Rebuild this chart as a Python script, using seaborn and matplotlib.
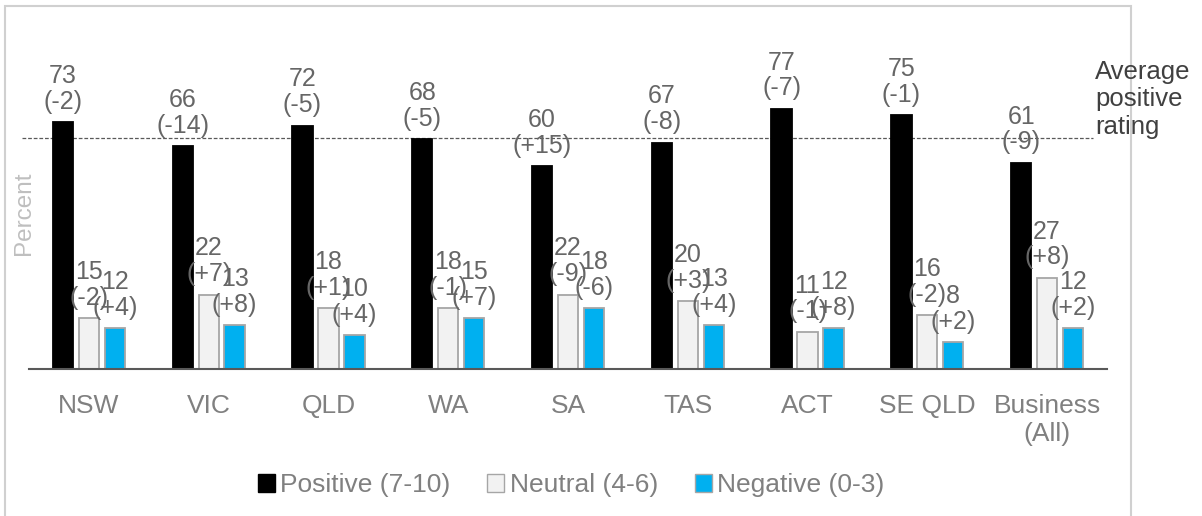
import pandas as pd
import matplotlib.pyplot as plt
import matplotlib.patches as mpatches
import seaborn as sns

regions = ["NSW", "VIC", "QLD", "WA", "SA", "TAS", "ACT", "SE QLD", "Business\n(All)"]
series = ["Positive (7-10)", "Neutral (4-6)", "Negative (0-3)"]

positive = [73, 66, 72, 68, 60, 67, 77, 75, 61]
positive_change = ["-2", "-14", "-5", "-5", "+15", "-8", "-7", "-1", "-9"]
neutral = [15, 22, 18, 18, 22, 20, 11, 16, 27]
neutral_change = ["-2", "+7", "+1", "-1", "-9", "+3", "-1", "-2", "+8"]
negative = [12, 13, 10, 15, 18, 13, 12, 8, 12]
negative_change = ["+4", "+8", "+4", "+7", "-6", "+4", "+8", "+2", "+2"]

average_positive = 68.3

rows = []
for vals, name in [(positive, series[0]), (neutral, series[1]), (negative, series[2])]:
    for r, v in zip(regions, vals):
        rows.append({"Region": r, "Rating": name, "Percent": v})
df = pd.DataFrame(rows)

sns.set_theme(style="white")
plt.rcParams['font.family'] = ['Liberation Sans', 'DejaVu Sans']

fig = plt.figure(figsize=(12.02, 5.16), dpi=100)
ax = fig.add_axes([29 / 1202, 147 / 516, 1078 / 1202, 338 / 516])

palette = {series[0]: "#000000", series[1]: "#f2f2f2", series[2]: "#00b0f0"}
sns.barplot(data=df, x="Region", y="Percent", hue="Rating", palette=palette,
            width=0.65, gap=0.22, saturation=1, ax=ax, legend=True)

edges = ["#000000", "#a6a6a6", "#a6a6a6"]
for cont, ec in zip(ax.containers, edges):
    for bar in cont:
        bar.set_edgecolor(ec)
        bar.set_linewidth(1.3)

label_sets = [(positive, positive_change), (neutral, neutral_change), (negative, negative_change)]
for cont, (vals, chg) in zip(ax.containers, label_sets):
    labels = [f"{v}\n({c})" for v, c in zip(vals, chg)]
    texts = ax.bar_label(cont, labels=labels, padding=6, fontsize=18, color="#666666")
    for t in texts:
        t.set_linespacing(1.1)

ax.axhline(average_positive, xmin=-0.0065, xmax=0.987, color="#595959",
           lw=0.9, ls=(0, (3, 1.5)), clip_on=False, zorder=0)

ax.set_xlim(-0.5, 8.5)
ax.set_ylim(0, 100)
ax.set_yticks([])
ax.set_xlabel("")
ax.set_ylabel("Percent", fontsize=17.5, color="#bfbfbf")
ax.yaxis.set_label_coords(0.006, 0.46)
ax.tick_params(axis="x", length=0, pad=18, labelsize=19, labelcolor="#808080")
for lbl in ax.get_xticklabels():
    lbl.set_linespacing(1.2)
for side in ["top", "right", "left"]:
    ax.spines[side].set_visible(False)
ax.spines["bottom"].set_color("#595959")
ax.spines["bottom"].set_linewidth(1.5)

handles, labels = ax.get_legend_handles_labels()
for h, ec in zip(handles, edges):
    h.set_edgecolor(ec)
ax.legend(handles, labels, loc="center", bbox_to_anchor=(571 / 1202, 1 - 485 / 516),
          bbox_transform=fig.transFigure, ncol=3, frameon=False,
          handlelength=0.65, handleheight=0.65, handletextpad=0.2,
          columnspacing=1.4, fontsize=19, labelcolor="#808080")

fig.text(1095 / 1202, 1 - 60 / 516, "Average\npositive\nrating", ha="left", va="top",
         fontsize=18.5, color="#404040", linespacing=1.18)

border = mpatches.Rectangle((5 / 1202, -0.05), 1126 / 1202, 1 - 6 / 516 + 0.05,
                            transform=fig.transFigure, fill=False,
                            edgecolor="#d0d0d0", lw=1.5, clip_on=False)
fig.patches.append(border)

fig.savefig("out.png", dpi=100)
